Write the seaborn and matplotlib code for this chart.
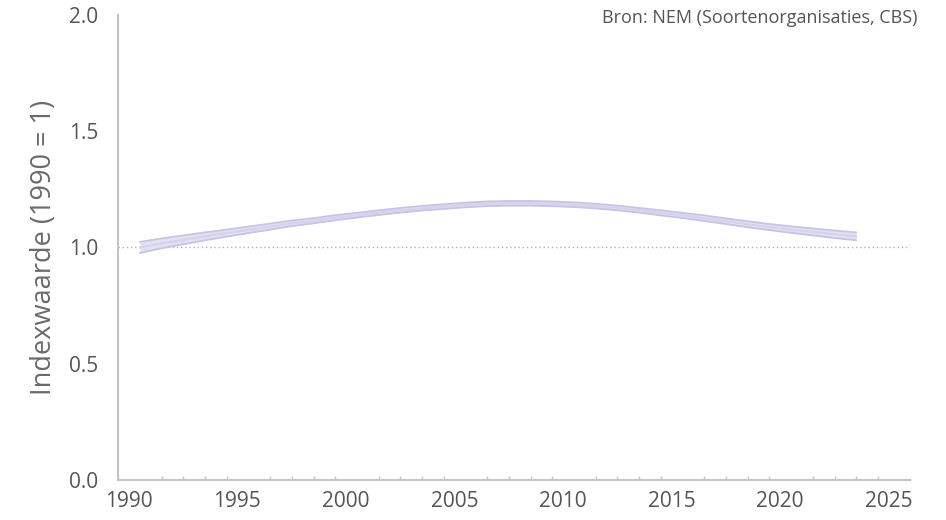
import numpy as np
import pandas as pd
import matplotlib.pyplot as plt
from matplotlib.ticker import MultipleLocator
from matplotlib.transforms import ScaledTranslation
import seaborn as sns

sns.set_theme(style="white")
plt.rcParams['font.family'] = ['Open Sans', 'DejaVu Sans']

LINE = '#c6c4e4'
BAND = '#e2e1f2'
TEXT = '#555555'
AXIS = '#c4c4c4'

years = list(range(1990, 2024))
index_value = [1.000, 1.018, 1.033, 1.048, 1.062, 1.076, 1.090, 1.104, 1.115, 1.128,
               1.139, 1.150, 1.160, 1.169, 1.176, 1.183, 1.188, 1.190, 1.190, 1.188,
               1.184, 1.178, 1.170, 1.160, 1.149, 1.138, 1.126, 1.113, 1.100, 1.088,
               1.077, 1.067, 1.057, 1.048]
band_half = [0.024, 0.021, 0.019, 0.017, 0.015, 0.014, 0.013, 0.012, 0.011, 0.011,
             0.010, 0.010, 0.010, 0.010, 0.010, 0.010, 0.010, 0.010, 0.010, 0.010,
             0.010, 0.010, 0.010, 0.010, 0.011, 0.011, 0.012, 0.012, 0.013, 0.013,
             0.014, 0.015, 0.016, 0.017]

df = pd.DataFrame({'jaar': years, 'index': index_value, 'half': band_half})
df['low'] = df['index'] - df['half']
df['high'] = df['index'] + df['half']

fig = plt.figure(figsize=(9.46, 5.2), dpi=100)
ax = fig.add_axes([0.1247, 0.0769, 0.8373, 0.8943])

ax.fill_between(df['jaar'], df['low'], df['high'], color=BAND, linewidth=0)
ax.plot(df['jaar'], df['low'], color=LINE, linewidth=1.3)
ax.plot(df['jaar'], df['high'], color=LINE, linewidth=1.3)
sns.lineplot(data=df, x='jaar', y='index', ax=ax, color='#d4d2ec', linewidth=1.5)

ax.axhline(1.0, color='#b0b0b0', linestyle=(0, (1, 2)), linewidth=1.0, zorder=0)

ax.set_xlim(1988.99, 2025.48)
ax.set_ylim(0, 2.0)
ax.xaxis.set_major_locator(MultipleLocator(5))
ax.xaxis.set_minor_locator(MultipleLocator(1))
ax.yaxis.set_major_locator(MultipleLocator(0.5))
ax.yaxis.set_major_formatter(plt.FuncFormatter(lambda v, p: f'{v:.1f}'))

ax.tick_params(axis='both', which='both', direction='in', colors=AXIS,
               labelcolor=TEXT, labelsize=15)
ax.tick_params(axis='both', which='major', length=4, width=1)
ax.tick_params(axis='x', which='minor', length=3, width=1, bottom=True)
ax.tick_params(axis='x', pad=8)
ax.tick_params(axis='y', pad=14)

# x labels sit a little left of their ticks in the original
shift = ScaledTranslation(-11 / 100, 0, fig.dpi_scale_trans)
for lab in ax.get_xticklabels():
    lab.set_transform(lab.get_transform() + shift)

for side in ['top', 'right']:
    ax.spines[side].set_visible(False)
for side in ['left', 'bottom']:
    ax.spines[side].set_color(AXIS)
    ax.spines[side].set_linewidth(1.5)

ax.set_xlabel('')
ax.set_ylabel('Indexwaarde (1990 = 1)', fontsize=19.5, color='#6a6a6a', labelpad=8)

fig.text(0.970, 0.965, 'Bron: NEM (Soortenorganisaties, CBS)', ha='right', va='center',
         fontsize=13, color=TEXT)

plt.savefig('out.png', dpi=100)
plt.close()
